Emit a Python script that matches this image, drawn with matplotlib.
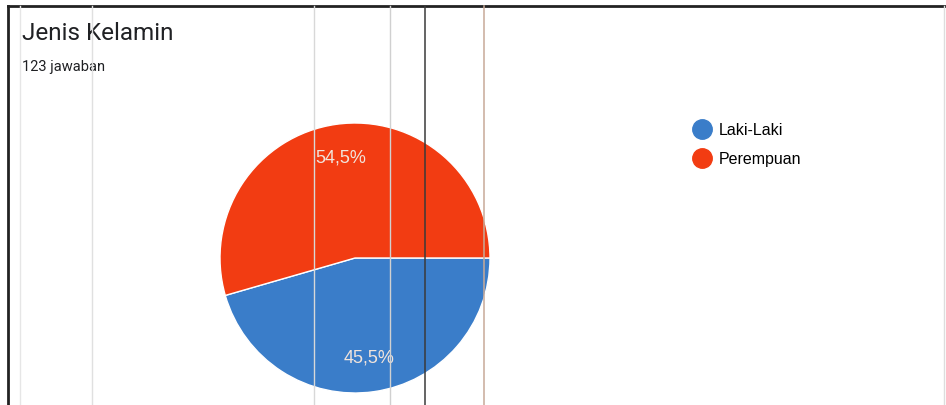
import matplotlib
matplotlib.use("Agg")
import matplotlib.pyplot as plt
from matplotlib.lines import Line2D

title = "Jenis Kelamin"
subtitle = "123 jawaban"
categories = ["Laki-Laki", "Perempuan"]
counts = [56, 67]
colors = ["#3a7dc9", "#f23c12"]

W, H = 946, 405
fig = plt.figure(figsize=(W / 100, H / 100), dpi=100)
fig.patch.set_facecolor("white")
plt.rcParams['font.family'] = ['Roboto', 'DejaVu Sans']

# pie axes: center (355,258) px, radius 135 px
cx, cy, r = 355, 258, 135
ax = fig.add_axes([(cx - r) / W, (H - cy - r) / H, 2 * r / W, 2 * r / H])
wedges, _, autotexts = ax.pie(
    counts, colors=colors, startangle=0, counterclock=False, radius=1,
    autopct=lambda p: f"{p:.1f}%".replace(".", ","), pctdistance=0.75,
    wedgeprops=dict(edgecolor="white", linewidth=1),
    textprops=dict(color="#f1e4dc", fontsize=13, family=["Liberation Sans", "DejaVu Sans"]))
ax.set_xlim(-1, 1)
ax.set_ylim(-1, 1)
ax.set_aspect("equal")
ax.axis("off")

fig.text(22 / W, 1 - 33 / H, title, fontsize=17.5, color="#202124", va="center", ha="left")
fig.text(22 / W, 1 - 67 / H, subtitle, fontsize=10.5, color="#202124", va="center", ha="left")

handles = [Line2D([0], [0], marker="o", linestyle="", markersize=14,
                  markerfacecolor=c, markeredgecolor=c) for c in colors]
fig.legend(handles, categories, loc="upper left",
           bbox_to_anchor=(694 / W, 1 - 123 / H), frameon=False,
           prop=dict(size=11.5, family=["Liberation Sans", "DejaVu Sans"]),
           handletextpad=0.55, labelspacing=0.85, handlelength=1.0,
           borderaxespad=0, borderpad=0)

# scan frame and artifact lines
fig.add_artist(Line2D([8 / W, 8 / W], [0, 1 - 6 / H], color="#222222", lw=2, transform=fig.transFigure))
fig.add_artist(Line2D([8 / W, 1], [1 - 6 / H, 1 - 6 / H], color="#222222", lw=2, transform=fig.transFigure))
fig.add_artist(Line2D([944 / W, 944 / W], [0, 1 - 6 / H], color="#dddddd", lw=1, transform=fig.transFigure))
for x, c, lw in [(20, "#e6e6e6", 1), (92, "#e0e0e0", 1), (314, "#d8d8d8", 1),
                 (390, "#d0d0d0", 1), (425, "#3a3a3a", 1.1), (484, "#c8aa98", 1.1)]:
    fig.add_artist(Line2D([x / W, x / W], [0, 1 - 6 / H], color=c, lw=lw, transform=fig.transFigure, zorder=5))

fig.savefig("out.png", dpi=100, facecolor="white")
